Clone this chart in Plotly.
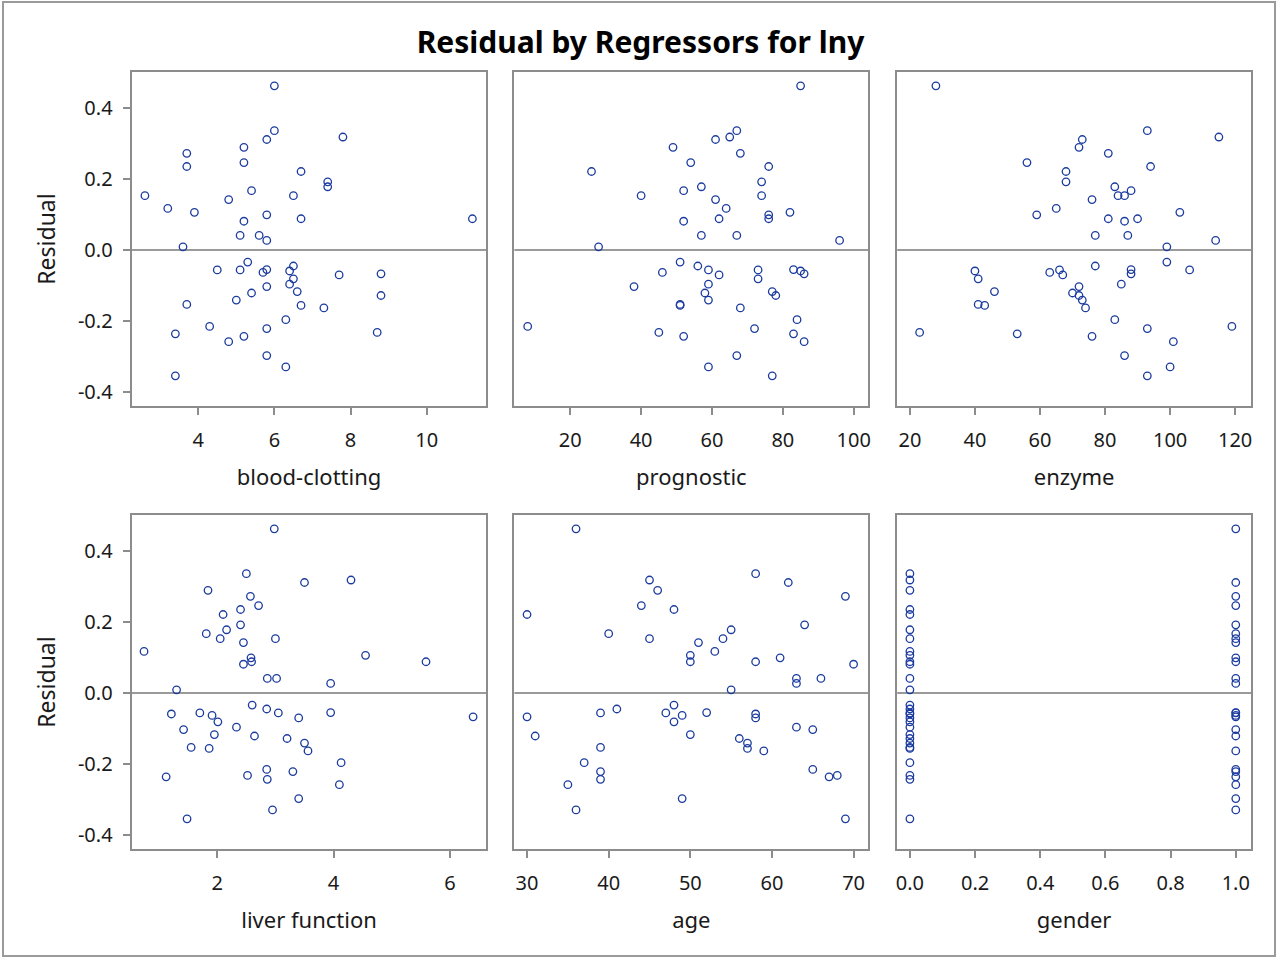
import plotly.graph_objects as go
from plotly.subplots import make_subplots

# Residuals (lny model), one per observation
residual = [0.088, -0.056, 0.178, -0.081, 0.318, -0.103, -0.063, 0.272, 0.336, 0.235,
            -0.196, -0.156, 0.027, -0.055, -0.070, 0.192, 0.462, -0.153, -0.163, 0.041,
            -0.243, -0.236, 0.221, -0.297, -0.329, 0.311, 0.081, 0.088, 0.246, 0.099,
            0.117, -0.232, -0.141, -0.221, -0.121, -0.034, 0.153, -0.215, 0.142, 0.167,
            0.289, 0.009, -0.067, -0.045, -0.354, 0.153, -0.056, -0.258, 0.041, 0.106,
            -0.117, -0.059, -0.096, -0.128]

blood_clotting = [6.7, 5.1, 7.4, 6.5, 7.8, 5.8, 5.7, 3.7, 6.0, 3.7, 6.3, 6.7, 5.8, 5.8, 7.7, 7.4,
                  6.0, 3.7, 7.3, 5.6, 5.2, 3.4, 6.7, 5.8, 6.3, 5.8, 5.2, 11.2, 5.2, 5.8, 3.2, 8.7,
                  5.0, 5.8, 5.4, 5.3, 2.6, 4.3, 4.8, 5.4, 5.2, 3.6, 8.8, 6.5, 3.4, 6.5, 4.5, 4.8,
                  5.1, 3.9, 6.6, 6.4, 6.4, 8.8]
prognostic = [62, 59, 57, 73, 65, 38, 46, 68, 67, 76, 84, 51, 96, 83, 62, 74, 85, 51, 68, 57,
              52, 83, 26, 67, 59, 61, 52, 76, 54, 76, 64, 45, 59, 72, 58, 51, 74, 8, 61, 52,
              49, 28, 86, 56, 77, 40, 73, 86, 67, 82, 77, 85, 59, 78]
enzyme = [81, 66, 83, 41, 115, 72, 63, 81, 93, 94, 83, 43, 114, 88, 67, 68, 28, 41, 74, 87,
          76, 53, 68, 86, 100, 73, 86, 90, 56, 59, 65, 23, 73, 93, 70, 99, 86, 119, 76, 88,
          72, 99, 88, 77, 93, 84, 106, 101, 77, 103, 46, 40, 85, 72]
liver_function = [2.59, 1.70, 2.16, 2.01, 4.30, 1.42, 1.91, 2.57, 2.50, 2.40, 4.13, 1.86, 3.95,
                  3.95, 3.40, 2.40, 2.98, 1.55, 3.56, 3.02, 2.86, 1.12, 2.10, 3.40, 2.95, 3.50,
                  2.45, 5.59, 2.71, 2.58, 0.74, 2.52, 3.50, 3.30, 2.64, 2.60, 2.05, 2.85, 2.45,
                  1.81, 1.84, 1.30, 6.40, 2.85, 1.48, 3.00, 3.05, 4.10, 2.86, 4.55, 1.95, 1.21,
                  2.33, 3.20]
age = [50, 39, 55, 48, 45, 65, 49, 69, 58, 48, 37, 57, 63, 52, 58, 64, 36, 39, 59, 63,
       39, 67, 30, 49, 36, 62, 70, 58, 44, 61, 53, 68, 57, 39, 31, 48, 45, 65, 51, 40,
       46, 55, 30, 41, 69, 54, 47, 35, 66, 50, 50, 58, 63, 56]
gender = [0, 0, 0, 0, 0, 1, 1, 1, 0, 0, 0, 0, 1, 1, 0, 1, 1, 0, 1, 0,
          0, 1, 0, 1, 1, 1, 0, 1, 1, 1, 0, 0, 0, 1, 1, 0, 0, 1, 1, 1,
          0, 0, 1, 0, 0, 1, 1, 1, 1, 0, 0, 0, 0, 0]

regressors = [
    ("blood-clotting", blood_clotting, [2.25, 11.57], [4, 6, 8, 10], ["4", "6", "8", "10"]),
    ("prognostic", prognostic, [4.24, 104.1], [20, 40, 60, 80, 100], ["20", "40", "60", "80", "100"]),
    ("enzyme", enzyme, [16.1, 124.9], [20, 40, 60, 80, 100, 120], ["20", "40", "60", "80", "100", "120"]),
    ("liver function", liver_function, [0.526, 6.63], [2, 4, 6], ["2", "4", "6"]),
    ("age", age, [28.45, 71.8], [30, 40, 50, 60, 70], ["30", "40", "50", "60", "70"]),
    ("gender", gender, [-0.039, 1.047], [0, 0.2, 0.4, 0.6, 0.8, 1.0], ["0.0", "0.2", "0.4", "0.6", "0.8", "1.0"]),
]
y_ticks = [-0.4, -0.2, 0.0, 0.2, 0.4]
y_ticktext = ["-0.4", "-0.2", "0.0", "0.2", "0.4"]
y_range = [-0.439, 0.501]

W, H = 1281, 959
FONT = "Noto Sans"
FRAME = "#8c8c8c"
MARKER = "#1b3b9e"
TXT = "#1a1a1a"

col_px = [(131, 487), (515, 870), (899, 1254)]
row_px = [(72, 406), (515, 849)]

fig = make_subplots(rows=2, cols=3)

for i, (name, xs, xr, xt, xtt) in enumerate(regressors):
    r, c = divmod(i, 3)
    fig.add_trace(go.Scatter(
        x=xs, y=residual, mode="markers",
        marker=dict(symbol="circle-open", size=7.5, color=MARKER, line=dict(width=1.3, color=MARKER)),
        showlegend=False, hoverinfo="x+y"), row=r + 1, col=c + 1)
    x0, x1 = col_px[c]
    y0, y1 = row_px[r]
    n = i + 1
    xa = "xaxis" if n == 1 else f"xaxis{n}"
    ya = "yaxis" if n == 1 else f"yaxis{n}"
    fig.layout[xa].update(
        domain=[x0 / W, x1 / W], range=xr, tickvals=xt, ticktext=xtt,
        showgrid=False, zeroline=False, showline=True, mirror=True,
        linecolor=FRAME, linewidth=2, ticks="outside", ticklen=7, tickwidth=2,
        tickcolor=FRAME, ticklabelstandoff=8, tickfont=dict(family=FONT, size=20, color=TXT),
        title=dict(text=name, font=dict(family=FONT, size=22, color=TXT), standoff=18))
    fig.layout[ya].update(
        domain=[1 - y1 / H, 1 - y0 / H], range=y_range, tickvals=y_ticks,
        ticktext=y_ticktext if c == 0 else None, showticklabels=(c == 0),
        showgrid=False, zeroline=False, showline=True, mirror=True,
        linecolor=FRAME, linewidth=2, ticks="outside" if c == 0 else "", ticklen=7,
        tickwidth=2, tickcolor=FRAME, ticklabelstandoff=6,
        tickfont=dict(family=FONT, size=20, color=TXT),
        title=dict(text="Residual" if c == 0 else "", font=dict(family=FONT, size=23, color=TXT),
                   standoff=16))
    xref = "x" if n == 1 else f"x{n}"
    yref = "y" if n == 1 else f"y{n}"
    fig.add_shape(type="line", xref=f"{xref} domain", yref=yref, x0=0, x1=1, y0=0, y1=0,
                  line=dict(color="#9a9a9a", width=2), layer="below")

fig.add_shape(type="rect", xref="paper", yref="paper", x0=2 / W, x1=1278 / W,
              y0=1 - 956 / H, y1=1 - 2 / H, line=dict(color="#9a9a9a", width=2))

fig.update_layout(
    width=W, height=H, margin=dict(l=0, r=0, t=0, b=0),
    paper_bgcolor="white", plot_bgcolor="white",
    title=dict(text="<b>Residual by Regressors for lny</b>", x=0.5, xanchor="center",
               y=1 - 42 / H, yanchor="middle", font=dict(family=FONT, size=30, color="#000")),
)

fig.write_html("out.html", config={"displayModeBar": False},
               post_script="document.body.style.margin='0';document.body.style.padding='0';")
